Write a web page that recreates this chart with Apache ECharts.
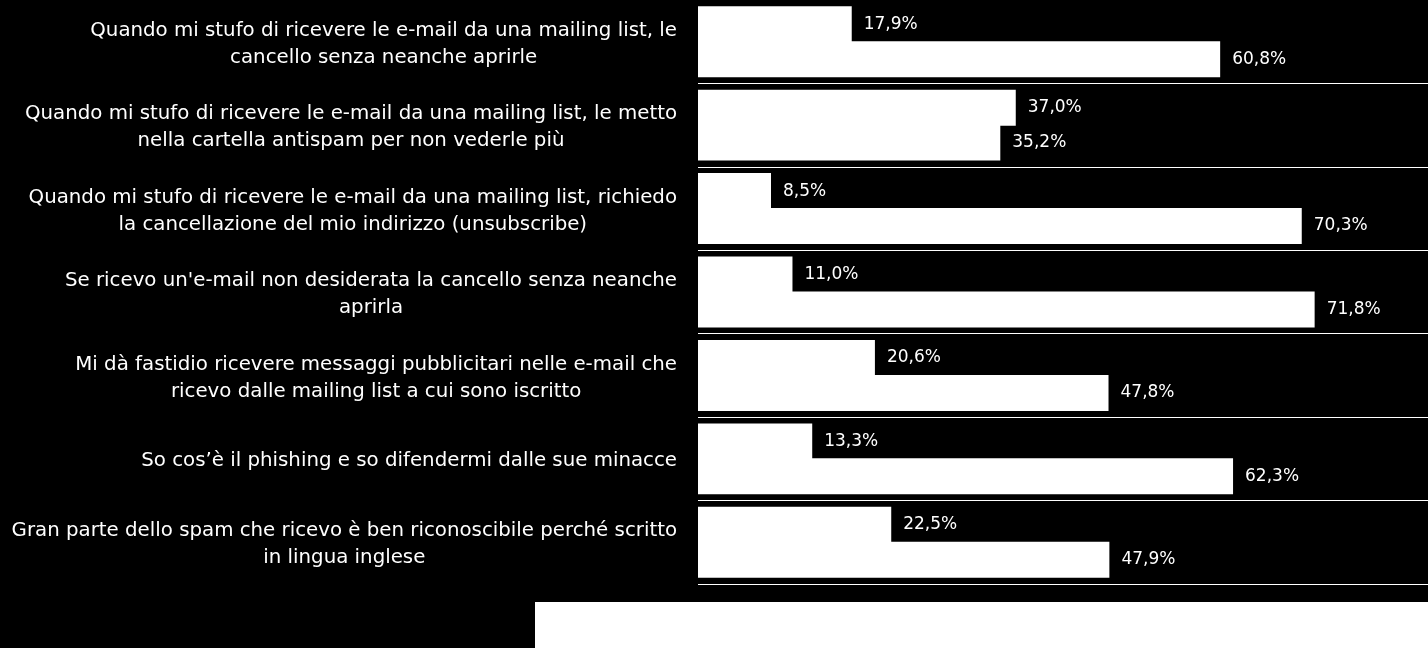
<!DOCTYPE html>
<html>
<head>
<meta charset="utf-8">
<script src="https://cdn.jsdelivr.net/npm/echarts@6/dist/echarts.min.js"></script>
<style>
html,body{margin:0;padding:0;background:#000;}
#chart{width:1428px;height:648px;}
</style>
</head>
<body>
<div id="chart"></div>
<script>
const categories = [
  "Quando mi stufo di ricevere le e-mail da una mailing list, le\ncancello senza neanche aprirle",
  "Quando mi stufo di ricevere le e-mail da una mailing list, le metto\nnella cartella antispam per non vederle più",
  "Quando mi stufo di ricevere le e-mail da una mailing list, richiedo\nla cancellazione del mio indirizzo (unsubscribe)",
  "Se ricevo un'e-mail non desiderata la cancello senza neanche\naprirla",
  "Mi dà fastidio ricevere messaggi pubblicitari nelle e-mail che\nricevo dalle mailing list a cui sono iscritto",
  "So cos’è il phishing e so difendermi dalle sue minacce",
  "Gran parte dello spam che ricevo è ben riconoscibile perché scritto\nin lingua inglese"
];
const seriesA = [17.9, 37.0, 8.5, 11.0, 20.6, 13.3, 22.5];
const seriesB = [60.8, 35.2, 70.3, 71.8, 47.8, 62.3, 47.9];
const seriesNames = ["Serie 1", "Serie 2"];

const FONT = "DejaVu Sans";
const fmt = p => p.value.toFixed(1).replace('.', ',') + '%';

const chart = echarts.init(document.getElementById('chart'), null, {renderer: 'canvas'});
const labelCfg = {
  show: true, position: 'right', distance: 12,
  color: '#fff', fontFamily: FONT, fontSize: 17, formatter: fmt
};
const barStyle = {color: '#fff'};
chart.setOption({
  backgroundColor: '#000',
  animation: false,
  grid: {left: 698, right: 0, top: 0, bottom: 64, containLabel: false},
  xAxis: {
    type: 'value', min: 0, max: 85,
    axisLine: {show: false}, axisTick: {show: false},
    axisLabel: {show: false}, splitLine: {show: false}
  },
  yAxis: {
    type: 'category', data: categories, inverse: true,
    axisLine: {show: false}, axisTick: {show: false},
    splitLine: {show: true, interval: (i) => i !== 0, lineStyle: {color: '#fff', width: 1}},
    axisLabel: {
      margin: 21,
      color: '#fff',
      padding: [5, 0, 0, 0],
      fontFamily: FONT, fontSize: 19.8, lineHeight: 27,
      formatter: v => v.split('\n').map(l => '{c|' + l + '}').join('\n'),
      rich: {c: {align: 'center', color: '#fff', fontFamily: FONT, fontSize: 19.8, lineHeight: 27}}
    }
  },
  series: [
    {name: seriesNames[0], type: 'bar', data: seriesA, barGap: '-3%', barCategoryGap: '15%',
     itemStyle: barStyle, label: labelCfg},
    {name: seriesNames[1], type: 'bar', data: seriesB, barGap: '-3%', barCategoryGap: '15%',
     itemStyle: barStyle, label: labelCfg}
  ],
  graphic: [{
    type: 'rect', left: 535, top: 602,
    shape: {width: 893, height: 46},
    style: {fill: '#fff'}, silent: true
  }]
});
</script>
</body>
</html>
